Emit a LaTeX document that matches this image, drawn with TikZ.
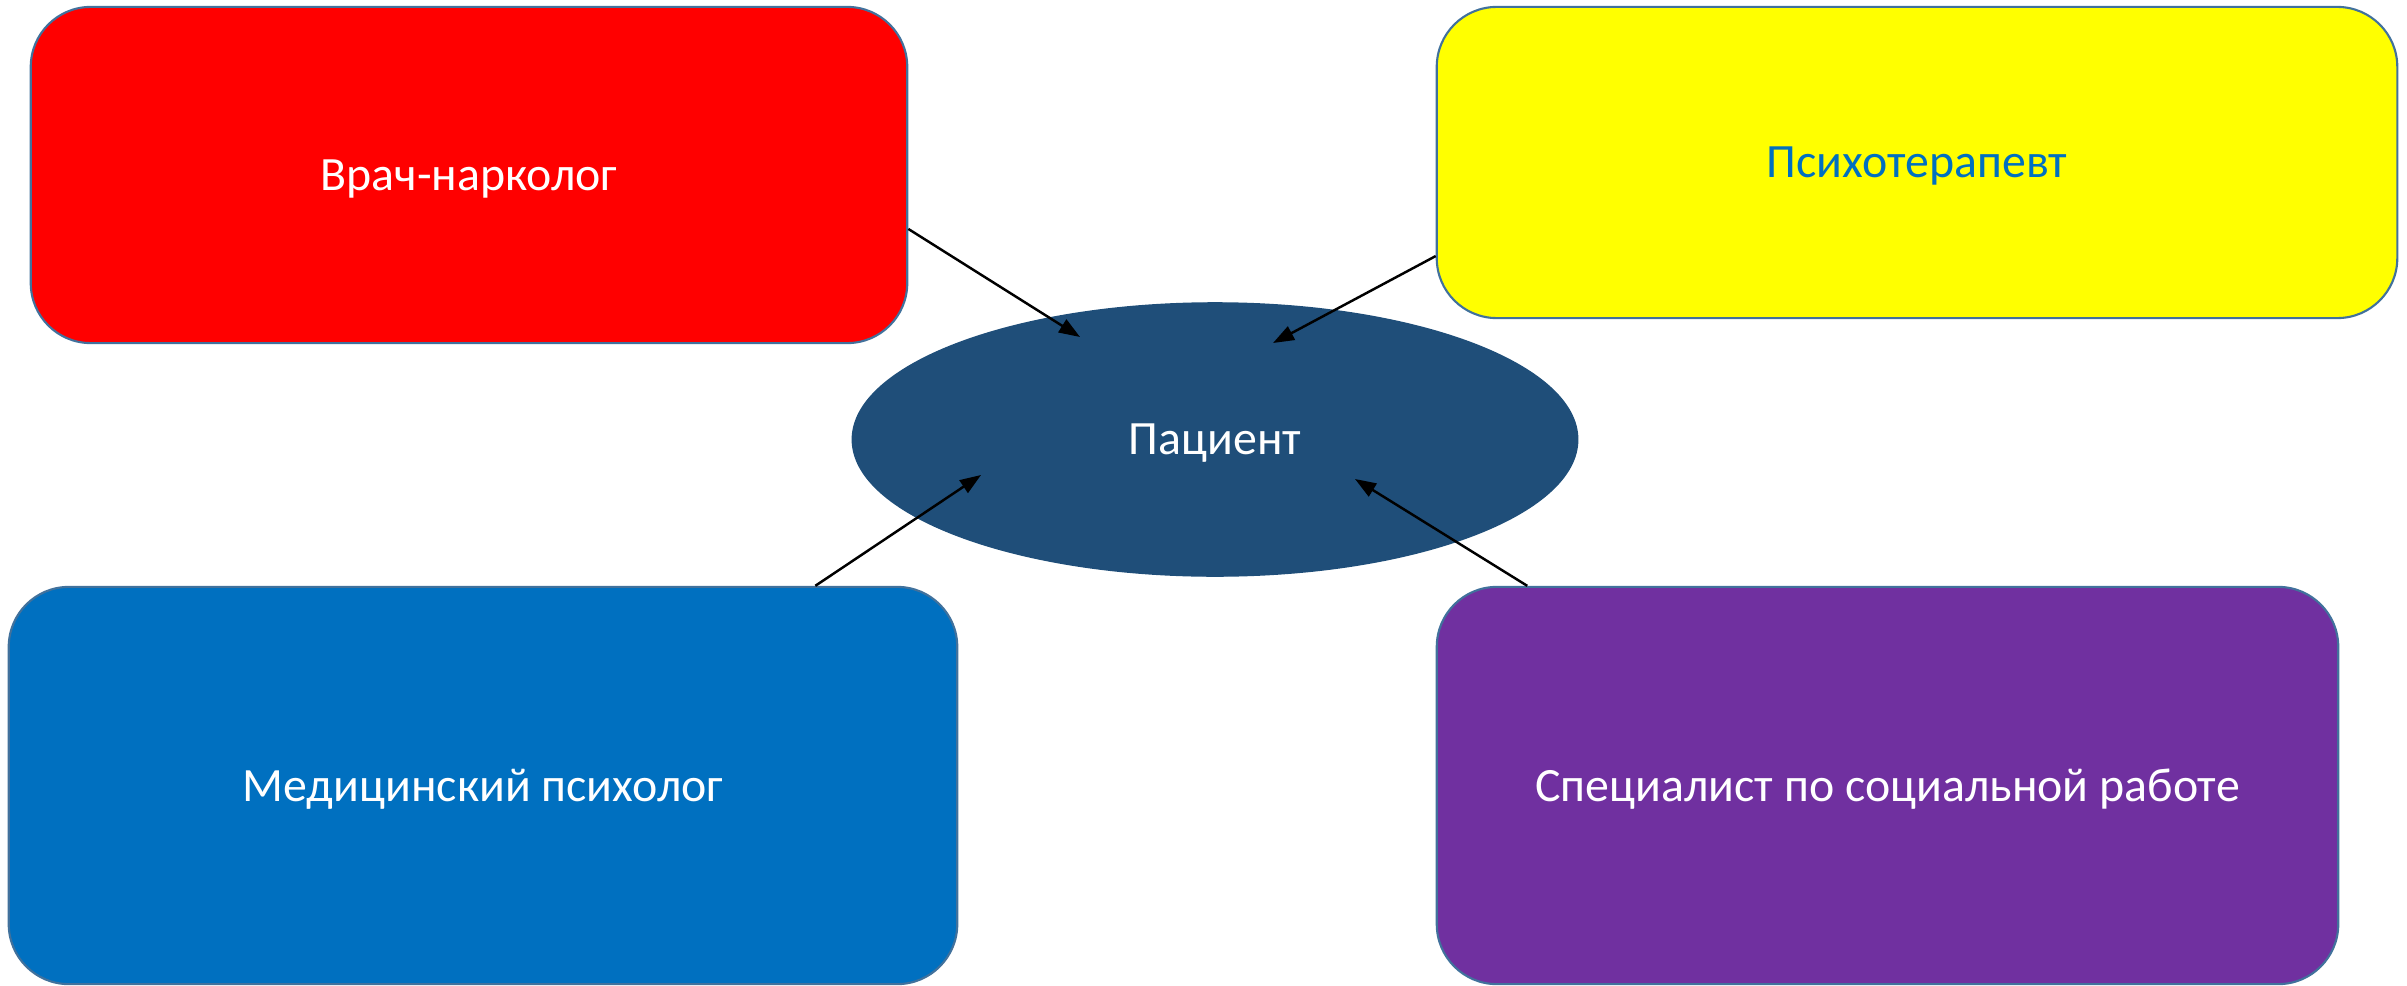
\documentclass[tikz,border=0pt]{standalone}
\usepackage{fontspec}
\setmainfont{Carlito}
\usetikzlibrary{shapes.geometric,arrows.meta}

\definecolor{narcred}{HTML}{FF0000}
\definecolor{therapyellow}{HTML}{FFFF00}
\definecolor{psyblue}{HTML}{0070C0}
\definecolor{socpurple}{HTML}{7030A0}
\definecolor{patblue}{HTML}{1F4E79}
\definecolor{edgeblue}{HTML}{41719C}

\begin{document}
\begin{tikzpicture}[x=0.01cm,y=-0.01cm]
  \tikzset{
    every node/.style={font=\fontsize{13.6}{16}\selectfont,text=white,inner sep=0pt,text depth=0pt},
    card/.style={rectangle,rounded corners=0.6cm,draw=edgeblue,line width=0.6pt},
    arrow/.style={-{Triangle[length=0.21cm,width=0.15cm]},line width=0.7pt}
  }
  \useasboundingbox (0,0) rectangle (2407,985);

  \node[ellipse,fill=patblue,draw=patblue,minimum width=7.25cm,minimum height=2.73cm] (pat) at (1215,439.5) {Пациент};

  \node[card,fill=narcred,minimum width=8.76cm,minimum height=3.36cm] (narc) at (469,175) {Врач-нарколог};
  \node[card,fill=therapyellow,text=psyblue,minimum width=9.6cm,minimum height=3.11cm] (ther) at (1917,162.5) {Психотерапевт};
  \node[card,fill=psyblue,minimum width=9.48cm,minimum height=3.97cm] (psy) at (483,785.5) {Медицинский психолог};
  \node[card,fill=socpurple,minimum width=9.01cm,minimum height=3.97cm] (soc) at (1887.5,785.5) {Специалист по социальной работе};

  % arrow tips inside the ellipse
  \coordinate (t1) at (1080,337);
  \coordinate (t2) at (1273,343);
  \coordinate (t3) at (981,475);
  \coordinate (t4) at (1355,479);

  \draw (narc.-7.5) edge[arrow] (t1)
        (ther.191.25) edge[arrow] (t2)
        (psy.31.2) edge[arrow] (t3)
        (soc.151.4) edge[arrow] (t4);
\end{tikzpicture}
\end{document}
